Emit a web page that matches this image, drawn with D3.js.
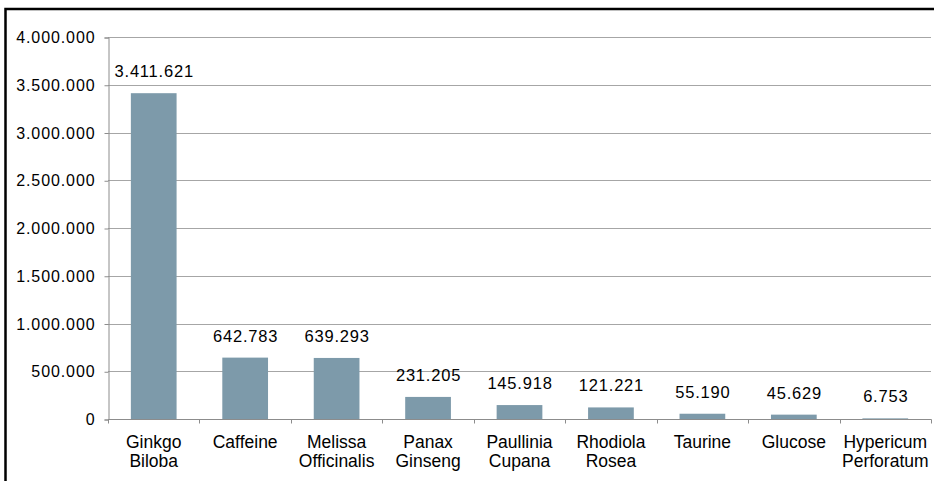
<!DOCTYPE html>
<html><head><meta charset="utf-8">
<script src="https://cdn.jsdelivr.net/npm/d3@7"></script>
<style>
html,body{margin:0;padding:0;background:#fff;}
svg text{font-family:"Liberation Sans",Arial,sans-serif;fill:#000;}
</style></head>
<body><svg id="c" width="939" height="481"></svg>
<script>
const categories = [["Ginkgo","Biloba"],["Caffeine"],["Melissa","Officinalis"],["Panax","Ginseng"],["Paullinia","Cupana"],["Rhodiola","Rosea"],["Taurine"],["Glucose"],["Hypericum","Perforatum"]];
const values = [3411621, 642783, 639293, 231205, 145918, 121221, 55190, 45629, 6753];
const yTicks = [0,500000,1000000,1500000,2000000,2500000,3000000,3500000,4000000];

const fmt = v => d3.format(",")(v).replace(/,/g,".");
const svg = d3.select("#c");
const m = {l:108, r:931, t:37, b:419};
const keys = categories.map((c,i)=>i);
const x = d3.scaleBand().domain(keys).range([m.l,m.r]).paddingInner(0.5).paddingOuter(0.25);
const y = d3.scaleLinear().domain([0,4000000]).range([m.b,m.t]);

// frame
svg.append("path").attr("d",`M5.5,481 V9 H934`).attr("fill","none").attr("stroke","#000").attr("stroke-width",2.5);

// gridlines
svg.append("g").selectAll("line").data(yTicks.filter(d=>d>0)).join("line")
  .attr("x1",m.l).attr("x2",m.r).attr("y1",d=>Math.round(y(d))+0.5).attr("y2",d=>Math.round(y(d))+0.5)
  .attr("stroke","#a6a6a6").attr("stroke-width",1);

// y axis
const ya = svg.append("g").attr("transform",`translate(${m.l+0.5},0.5)`)
  .call(d3.axisLeft(y).tickValues(yTicks).tickFormat(fmt).tickSize(4).tickPadding(9));
ya.attr("font-family",null).attr("font-size",null);
ya.select(".domain").attr("stroke","#8c8c8c");
ya.selectAll(".tick line").attr("stroke","#8c8c8c");
ya.selectAll(".tick text").style("font-size","16px").style("letter-spacing","0.9px");

// x axis
const xa = svg.append("g").attr("transform",`translate(0,${m.b+0.5})`);
xa.append("line").attr("x1",m.l).attr("x2",m.r+0.5).attr("stroke","#8c8c8c");
const bounds = d3.range(categories.length+1).map(i=>m.l+i*(m.r-m.l)/categories.length);
xa.selectAll("line.t").data(bounds).join("line").attr("class","t")
  .attr("x1",d=>Math.round(d)+0.5).attr("x2",d=>Math.round(d)+0.5).attr("y1",0).attr("y2",4).attr("stroke","#8c8c8c");

// bars
svg.append("g").selectAll("rect").data(values).join("rect")
  .attr("x",(d,i)=>x(i)).attr("width",x.bandwidth())
  .attr("y",d=>y(d)).attr("height",d=>y(0)-y(d)).attr("fill","#7d9aaa");

// data labels
svg.append("g").selectAll("text").data(values).join("text")
  .attr("x",(d,i)=>x(i)+x.bandwidth()/2+0.5).attr("y",d=>y(d)-16)
  .attr("text-anchor","middle").style("font-size","16.5px").style("letter-spacing","0.8px").text(d=>fmt(d));

// category labels
const cl = svg.append("g").selectAll("text").data(categories).join("text")
  .attr("text-anchor","middle").style("font-size","17.5px")
  .attr("transform",(d,i)=>`translate(${x(i)+x.bandwidth()/2},448)`);
cl.selectAll("tspan").data(d=>d).join("tspan").attr("x",0).attr("dy",(d,j)=>j?19:0).text(d=>d);
</script></body></html>
